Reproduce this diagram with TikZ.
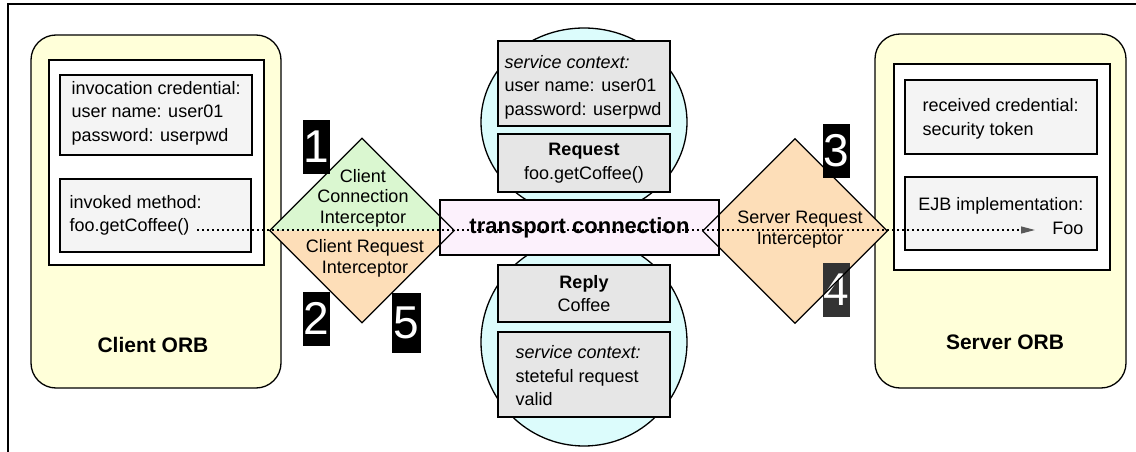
\documentclass[tikz,border=0pt]{standalone}
\usepackage{fontspec}
\setmainfont{Liberation Sans}
\usetikzlibrary{shapes.geometric,arrows.meta}
\definecolor{orbyellow}{RGB}{255,255,217}
\definecolor{credgray}{RGB}{244,244,244}
\definecolor{msggray}{RGB}{230,230,230}
\definecolor{circcyan}{RGB}{220,252,252}
\definecolor{linkpink}{RGB}{252,241,252}
\definecolor{conngreen}{RGB}{218,247,208}
\definecolor{reqorange}{RGB}{253,222,184}

\begin{document}
\begin{tikzpicture}[x=1pt, y=-1pt,
    orb/.style = {draw, line width=1.3pt, fill=orbyellow, rounded corners=25pt, inner sep=0pt},
    inbox/.style = {draw, line width=1.3pt, fill=white, inner sep=0pt},
    credbox/.style = {draw, line width=1.3pt, fill=credgray, inner sep=0pt},
    msgbox/.style = {draw, line width=1.3pt, fill=msggray, inner sep=0pt, minimum width=172pt,
      align=center, font=\fontsize{18}{23.5}\selectfont},
    txt/.style = {align=left, inner sep=0pt, font=\fontsize{18}{23.5}\selectfont},
    lbl/.style = {align=center, inner sep=0pt, font=\fontsize{18}{20.5}\selectfont},
    numbox/.style = {fill=black, text=white, minimum width=27pt, minimum height=54pt,
      inner sep=0pt, font=\fontsize{46}{46}\selectfont},
    icpt/.style = {diamond, minimum width=184pt, minimum height=184pt, inner sep=0pt}]
  \useasboundingbox (0,0) rectangle (1136,452);
  \draw [line width=1.3pt] (1136,4) -- (8,4) -- (8,452);

  % client side
  \node [orb, minimum width=250pt, minimum height=353pt] (client) at (156,211.5) {};
  \node [inbox, minimum width=215pt, minimum height=205pt] (clientin) at (156.5,162.5) {};
  \node [credbox, minimum width=192pt, minimum height=80pt] (cred) at (156,115) {};
  \node [credbox, minimum width=191pt, minimum height=73pt] (call) at (155.5,215.5) {};
  \node [txt, anchor=west] (credtxt) at ([xshift=12pt,yshift=2pt]cred.west)
    {invocation credential:\\user name: user01\\password: userpwd};
  \node [txt, anchor=west] (calltxt) at ([xshift=10pt]call.west)
    {invoked method:\\foo.getCoffee()};
  \node [font=\fontsize{21}{21}\selectfont\bfseries] (clientlbl) at (153,345) {Client ORB};

  % server side
  \node [orb, minimum width=251pt, minimum height=354pt] (server) at (1000.5,211) {};
  \node [inbox, minimum width=216pt, minimum height=206pt] (serverin) at (1002,167) {};
  \node [credbox, minimum width=192pt, minimum height=74pt] (recv) at (1001,117) {};
  \node [credbox, minimum width=192pt, minimum height=73pt] (ejb) at (1001,213.5) {};
  \node [txt, anchor=west] (recvtxt) at ([xshift=18pt,yshift=-2pt]recv.west)
    {received credential:\\security token};
  \node [txt, align=right, anchor=east] (ejbtxt) at ([xshift=-14pt,yshift=-2.5pt]ejb.east)
    {EJB implementation:\\Foo};
  \node [font=\fontsize{21}{21}\selectfont\bfseries] (serverlbl) at (1005,342) {Server ORB};

  % messages
  \fill [circcyan, draw=black, line width=1.3pt] (584,122) ellipse [x radius=103, y radius=94];
  \fill [circcyan, draw=black, line width=1.3pt] (584,342) ellipse [x radius=103, y radius=104];
  \node [msgbox, minimum height=85pt] (ctxup) at (584,83.5) {};
  \node [txt, anchor=west] (ctxuptxt) at ([xshift=7pt,yshift=-3.5pt]ctxup.west)
    {\textit{service context:}\\user name: user01\\password: userpwd};
  \node [msgbox, minimum height=58pt] (req) at (584,163) {\textbf{Request}\\foo.getCoffee()};
  \node [msgbox, minimum height=57pt] (rep) at (584,293.5) {\textbf{Reply}\\Coffee};
  \node [msgbox, minimum height=85pt] (ctxdn) at (584,374.5) {};
  \node [txt, anchor=west] (ctxdntxt) at ([xshift=18pt,yshift=-1.5pt]ctxdn.west)
    {\textit{service context:}\\steteful request\\valid};

  % interceptors
  \node [icpt] (cci) at (362,230.5) {};
  \node [icpt] (sri) at (795,231) {};
  \fill [conngreen] (cci.west) -- (cci.north) -- (cci.east) -- cycle;
  \fill [reqorange] (cci.west) -- (cci.south) -- (cci.east) -- cycle;
  \fill [reqorange] (sri.west) -- (sri.north) -- (sri.east) -- (sri.south) -- cycle;
  \node [draw, line width=1.3pt, fill=linkpink, minimum width=279pt, minimum height=55pt,
    font=\fontsize{22}{22}\selectfont\bfseries] (link) at (579.5,227.5) {transport connection};
  \node [numbox] (n1) at (316.5,147) {1};
  \node [numbox] (n2) at (316,318.5) {2};
  \node [numbox, minimum width=29pt, minimum height=60pt] (n5) at (406.5,323) {5};
  \node [numbox] (n3) at (836.5,150.5) {3};
  \node [numbox, fill=black!80] (n4) at (836.5,289.5) {4};
  \draw [line width=1.3pt] (cci.north) -- (cci.east) -- (cci.south) -- (cci.west) -- cycle;
  \draw [line width=1.3pt] (sri.north) -- (sri.east) -- (sri.south) -- (sri.west) -- cycle;
  \node [lbl] (ccilbl) at (363,198) {Client\\Connection\\Interceptor};
  \node [lbl] (crilbl) at (365,258.5) {Client Request\\Interceptor};
  \node [lbl] (srilbl) at (800,229.5) {Server Request\\Interceptor};

  % invocation path
  \coordinate (callend) at (197,230);
  \coordinate (fooend) at (1035,230);
  \draw [line width=1.2pt, dash pattern=on 2pt off 3pt,
    -{Triangle[length=14pt,width=7pt,color=black!65]}] (callend) -- (fooend);
\end{tikzpicture}
\end{document}
